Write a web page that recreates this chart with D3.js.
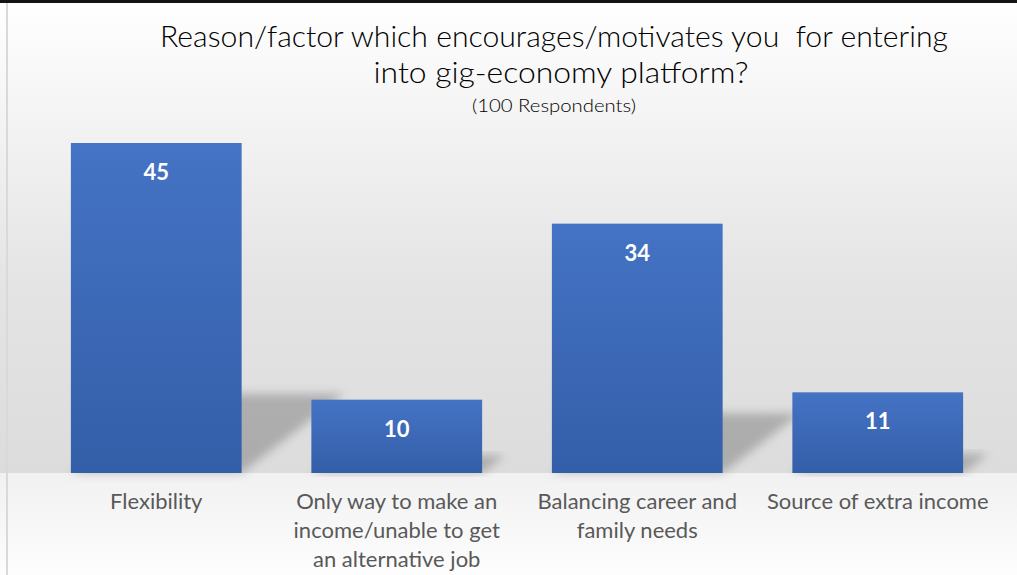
<!DOCTYPE html>
<html>
<head>
<meta charset="utf-8">
<script src="https://cdn.jsdelivr.net/npm/d3@7"></script>
<style>
  html, body { margin: 0; padding: 0; background: #fff; }
  svg { display: block; }
</style>
</head>
<body>
<div id="chart"></div>
<script>
// data
const categories = [
  ['Flexibility'],
  ['Only way to make an', 'income/unable to get', 'an alternative job'],
  ['Balancing career and', 'family needs'],
  ['Source of extra income']
]
const values = [45, 10, 34, 11]
const titleLines = ['Reason/factor which encourages/motivates you\u00a0 for entering', 'into gig-economy platform?']
const subtitle = '(100 Respondents)'

// sizes
const width = 1017, height = 575
const base = 473

const svg = d3.select('#chart').append('svg')
  .attr('width', width)
  .attr('height', height)

const defs = svg.append('defs')

// background gradients
const bgTop = defs.append('linearGradient').attr('id', 'bgTop')
  .attr('x1', 0).attr('y1', 0).attr('x2', 0).attr('y2', 1)
bgTop.append('stop').attr('offset', '0%').attr('stop-color', '#ffffff')
bgTop.append('stop').attr('offset', '20%').attr('stop-color', '#f6f6f6')
bgTop.append('stop').attr('offset', '60%').attr('stop-color', '#e4e4e4')
bgTop.append('stop').attr('offset', '100%').attr('stop-color', '#dcdcdc')

const bgBottom = defs.append('linearGradient').attr('id', 'bgBottom')
  .attr('x1', 0).attr('y1', 0).attr('x2', 0).attr('y2', 1)
bgBottom.append('stop').attr('offset', '0%').attr('stop-color', '#f1f1f1')
bgBottom.append('stop').attr('offset', '100%').attr('stop-color', '#fdfdfd')

// bar gradient
const barGrad = defs.append('linearGradient').attr('id', 'barGrad')
  .attr('x1', 0).attr('y1', 0).attr('x2', 0).attr('y2', 1)
barGrad.append('stop').attr('offset', '0%').attr('stop-color', '#4573c5')
barGrad.append('stop').attr('offset', '100%').attr('stop-color', '#335ea8')

// shadow blur
defs.append('filter').attr('id', 'blur')
  .attr('x', '-20%').attr('y', '-20%').attr('width', '140%').attr('height', '140%')
  .append('feGaussianBlur').attr('stdDeviation', 5)

svg.append('rect').attr('x', 0).attr('y', 0).attr('width', width).attr('height', base)
  .attr('fill', 'url(#bgTop)')
svg.append('rect').attr('x', 0).attr('y', base).attr('width', width).attr('height', height - base)
  .attr('fill', 'url(#bgBottom)')

// frame bits
svg.append('rect').attr('x', 0).attr('y', 0).attr('width', width).attr('height', 3).attr('fill', '#141414')
svg.append('rect').attr('x', 6).attr('y', 3).attr('width', 2).attr('height', height - 3).attr('fill', '#d9d9d9')

// scales
const x = d3.scaleBand()
  .domain(d3.range(values.length))
  .range([36, 998])
  .paddingInner(0.29)
  .paddingOuter(0.145)

const y = d3.scaleLinear()
  .domain([0, 50])
  .range([base, base - 50 * 330 / 45])

// perspective shadows
const shadowScale = 0.24, shadowSkew = 1.3
svg.append('g').selectAll('path')
  .data(values)
  .join('path')
  .attr('d', (d, i) => {
    const x0 = x(i), x1 = x(i) + x.bandwidth()
    const hs = (base - y(d)) * shadowScale
    const s = hs * shadowSkew
    return `M${x0},${base}L${x1},${base}L${x1 + s},${base - hs}L${x0 + s},${base - hs}Z`
  })
  .attr('fill', '#000')
  .attr('fill-opacity', 0.22)
  .attr('filter', 'url(#blur)')

// bars
svg.append('g').selectAll('rect')
  .data(values)
  .join('rect')
  .attr('x', (d, i) => x(i))
  .attr('y', d => y(d))
  .attr('width', x.bandwidth())
  .attr('height', d => base - y(d))
  .attr('fill', 'url(#barGrad)')

// value labels
svg.append('g').selectAll('text')
  .data(values)
  .join('text')
  .attr('x', (d, i) => x(i) + x.bandwidth() / 2)
  .attr('y', d => y(d) + 37)
  .attr('text-anchor', 'middle')
  .attr('font-family', 'Lato, "Open Sans", sans-serif')
  .attr('font-weight', 'bold')
  .attr('font-size', 22)
  .attr('fill', '#ffffff')
  .text(d => d)

// category labels
const catG = svg.append('g')
categories.forEach((lines, i) => {
  const t = catG.append('text')
    .attr('text-anchor', 'middle')
    .attr('font-family', 'Lato, "Open Sans", sans-serif')
    .attr('font-size', 22)
    .attr('fill', '#595959')
  lines.forEach((line, j) => {
    t.append('tspan')
      .attr('x', x(i) + x.bandwidth() / 2)
      .attr('y', 509 + j * 29)
      .text(line)
  })
})

// title
const title = svg.append('text')
  .attr('text-anchor', 'middle')
  .attr('font-family', 'Lato, sans-serif')
  .attr('font-weight', 300)
  .attr('font-size', 30)
  .attr('fill', '#000')
title.append('tspan').attr('x', 554).attr('y', 47).attr('textLength', 788).attr('lengthAdjust', 'spacingAndGlyphs').text(titleLines[0])
title.append('tspan').attr('x', 561).attr('y', 83).attr('textLength', 375).attr('lengthAdjust', 'spacingAndGlyphs').text(titleLines[1])

svg.append('text')
  .attr('x', 554).attr('y', 112)
  .attr('text-anchor', 'middle')
  .attr('textLength', 164)
  .attr('lengthAdjust', 'spacingAndGlyphs')
  .attr('font-family', 'Lato, sans-serif')
  .attr('font-weight', 300)
  .attr('font-size', 18)
  .attr('fill', '#000')
  .text(subtitle)
</script>
</body>
</html>
